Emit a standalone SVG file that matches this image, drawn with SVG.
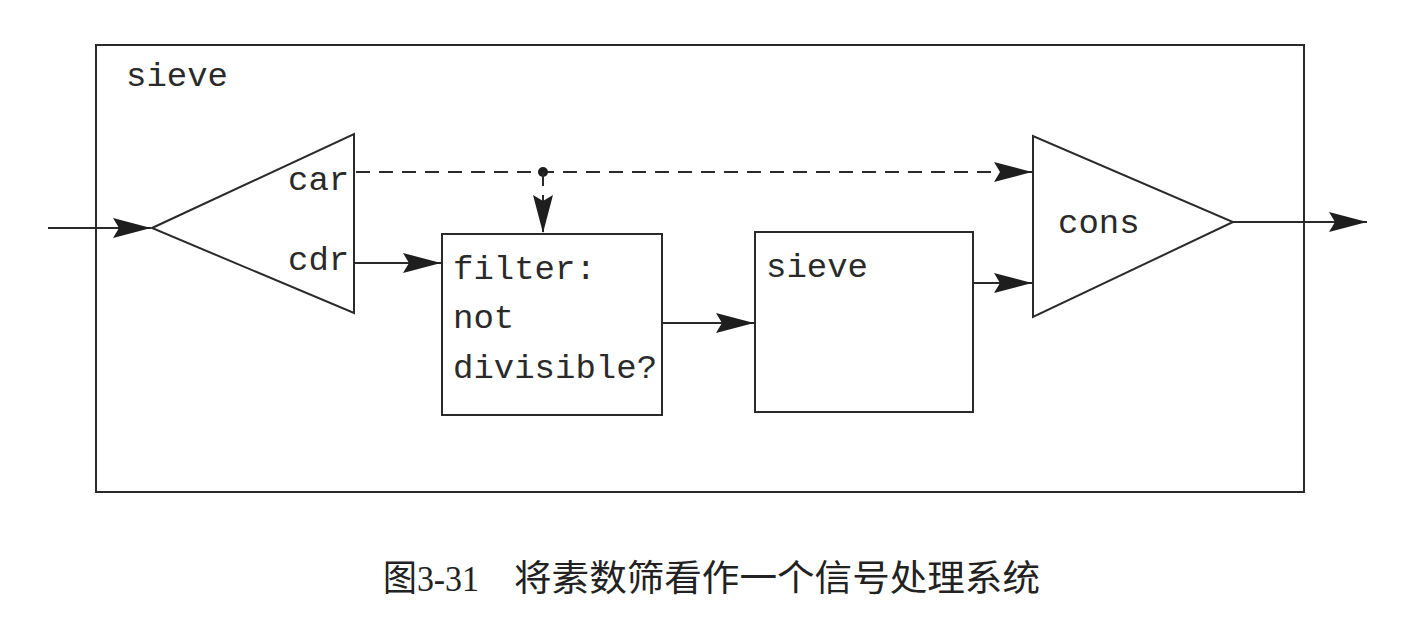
<svg xmlns="http://www.w3.org/2000/svg" width="1417" height="622" viewBox="0 0 1417 622">
<style>
.ln{stroke:#2a2a2a;stroke-width:2;fill:none}
.sh{stroke:#2a2a2a;stroke-width:2;fill:#fff}
.dash{stroke-dasharray:14,9}
.t{font-family:"Liberation Mono","DejaVu Sans Mono",monospace;font-size:34px;fill:#2a2a2a}
.cap{font-family:"Liberation Serif","Noto Sans CJK SC",serif;font-size:36px;fill:#222}
</style>
<defs>
<marker id="ah" markerUnits="userSpaceOnUse" markerWidth="40" markerHeight="24" refX="38" refY="10" orient="auto">
<path d="M0,0 L38,10 L0,20 L6,10 Z" fill="#1e1e1e"/>
</marker>
</defs>
<rect width="1417" height="622" fill="#fff"/>
<g id="outer">
<rect class="ln" x="96" y="45" width="1208" height="447"/>
<text class="t" x="126" y="86">sieve</text>
</g>
<g id="split">
<polygon class="sh" points="152,228 354,134 354,313"/>
<text class="t" x="288" y="190">car</text>
<text class="t" x="288" y="270">cdr</text>
</g>
<g id="filter">
<rect class="sh" x="442" y="234" width="220" height="181"/>
<text class="t" x="453" y="279">filter:</text>
<text class="t" x="453" y="328">not</text>
<text class="t" x="453" y="378">divisible?</text>
</g>
<g id="sieve">
<rect class="sh" x="755" y="232" width="218" height="180"/>
<text class="t" x="766" y="277">sieve</text>
</g>
<g id="cons">
<polygon class="sh" points="1033,136 1033,317 1233,222"/>
<text class="t" x="1058" y="233">cons</text>
</g>
<g id="connectors">
<line class="ln" x1="48" y1="228" x2="151" y2="228" marker-end="url(#ah)"/>
<line class="ln dash" x1="356" y1="172" x2="1032" y2="172" marker-end="url(#ah)"/>
<circle cx="543" cy="172" r="5" fill="#1e1e1e"/>
<line class="ln dash" x1="543" y1="172" x2="543" y2="233" marker-end="url(#ah)"/>
<line class="ln" x1="354" y1="263" x2="441" y2="263" marker-end="url(#ah)"/>
<line class="ln" x1="662" y1="323" x2="754" y2="323" marker-end="url(#ah)"/>
<line class="ln" x1="973" y1="283" x2="1032" y2="283" marker-end="url(#ah)"/>
<line class="ln" x1="1233" y1="222" x2="1367" y2="222" marker-end="url(#ah)"/>
</g>
<g id="caption">
<text class="cap" x="383" y="591" textLength="96" lengthAdjust="spacingAndGlyphs">图3-31</text>
<text class="cap" x="514" y="591" textLength="526" lengthAdjust="spacingAndGlyphs">将素数筛看作一个信号处理系统</text>
</g>
</svg>
